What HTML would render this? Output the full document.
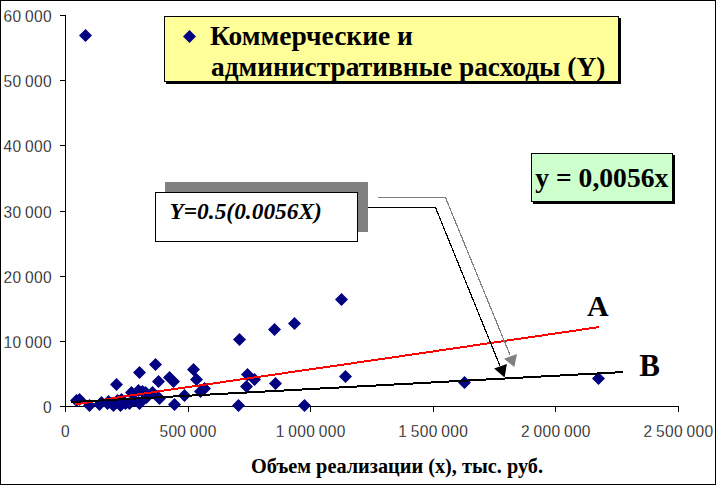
<!DOCTYPE html>
<html><head><meta charset="utf-8">
<style>
html,body{margin:0;padding:0;background:#fff;overflow:hidden}
svg{display:block}
.ax text{font-family:"Liberation Sans",sans-serif;font-size:15.5px;letter-spacing:0.38px;word-spacing:-1.2px;fill:#000;stroke:#fff;stroke-width:0.25px}
.ser{font-family:"Liberation Serif",serif;font-weight:bold;fill:#000}
</style></head><body>
<svg width="716" height="485" viewBox="0 0 716 485">
<rect x="0.5" y="0.5" width="715" height="484" fill="#fff" stroke="#000" stroke-width="1"/>
<g class="ax" stroke="#000" stroke-width="1" shape-rendering="crispEdges">
<path d="M65.5 15V407M65 406.5H679"/>
<g stroke="none"><text transform="translate(52 412.5) scale(1 1.1)" text-anchor="end">0</text><text transform="translate(52 347.5) scale(1 1.1)" text-anchor="end">10 000</text><text transform="translate(52 282.5) scale(1 1.1)" text-anchor="end">20 000</text><text transform="translate(52 217.5) scale(1 1.1)" text-anchor="end">30 000</text><text transform="translate(52 151.5) scale(1 1.1)" text-anchor="end">40 000</text><text transform="translate(52 86.5) scale(1 1.1)" text-anchor="end">50 000</text><text transform="translate(52 21.5) scale(1 1.1)" text-anchor="end">60 000</text><text transform="translate(65.5 437) scale(1 1.1)" text-anchor="middle">0</text><text transform="translate(188.1 437) scale(1 1.1)" text-anchor="middle">500 000</text><text transform="translate(310.7 437) scale(1 1.1)" text-anchor="middle">1 000 000</text><text transform="translate(433.3 437) scale(1 1.1)" text-anchor="middle">1 500 000</text><text transform="translate(555.9 437) scale(1 1.1)" text-anchor="middle">2 000 000</text><text transform="translate(678.5 437) scale(1 1.1)" text-anchor="middle">2 500 000</text></g>
<path d="M60 406.5H65"/><path d="M60 341.5H65"/><path d="M60 276.5H65"/><path d="M60 211.5H65"/><path d="M60 145.5H65"/><path d="M60 80.5H65"/><path d="M60 15.5H65"/>
<path d="M65.5 407V412"/><path d="M188.5 407V412"/><path d="M310.5 407V412"/><path d="M433.5 407V412"/><path d="M555.5 407V412"/><path d="M678.5 407V412"/>
</g>
<path d="M76.5 394.0L83.0 400.5L76.5 407.0L70.0 400.5ZM79.5 393.0L86.0 399.5L79.5 406.0L73.0 399.5ZM89.5 399.0L96.0 405.5L89.5 412.0L83.0 405.5ZM99.5 398.0L106.0 404.5L99.5 411.0L93.0 404.5ZM101.5 396.0L108.0 402.5L101.5 409.0L95.0 402.5ZM107.5 397.0L114.0 403.5L107.5 410.0L101.0 403.5ZM108.5 395.0L115.0 401.5L108.5 408.0L102.0 401.5ZM113.5 399.0L120.0 405.5L113.5 412.0L107.0 405.5ZM117.5 394.0L124.0 400.5L117.5 407.0L111.0 400.5ZM120.5 399.0L127.0 405.5L120.5 412.0L114.0 405.5ZM121.5 393.0L128.0 399.5L121.5 406.0L115.0 399.5ZM125.5 397.0L132.0 403.5L125.5 410.0L119.0 403.5ZM129.5 397.0L136.0 403.5L129.5 410.0L123.0 403.5ZM131.5 386.0L138.0 392.5L131.5 399.0L125.0 392.5ZM138.5 384.0L145.0 390.5L138.5 397.0L132.0 390.5ZM142.5 385.0L149.0 391.5L142.5 398.0L136.0 391.5ZM145.5 386.0L152.0 392.5L145.5 399.0L139.0 392.5ZM139.5 397.0L146.0 403.5L139.5 410.0L133.0 403.5ZM146.5 391.0L153.0 397.5L146.5 404.0L140.0 397.5ZM134.5 394.0L141.0 400.5L134.5 407.0L128.0 400.5ZM116.5 378.0L123.0 384.5L116.5 391.0L110.0 384.5ZM152.5 386.0L159.0 392.5L152.5 399.0L146.0 392.5ZM139.5 366.0L146.0 372.5L139.5 379.0L133.0 372.5ZM155.5 358.0L162.0 364.5L155.5 371.0L149.0 364.5ZM158.5 375.0L165.0 381.5L158.5 388.0L152.0 381.5ZM169.5 371.0L176.0 377.5L169.5 384.0L163.0 377.5ZM173.5 375.0L180.0 381.5L173.5 388.0L167.0 381.5ZM159.5 392.0L166.0 398.5L159.5 405.0L153.0 398.5ZM174.5 398.0L181.0 404.5L174.5 411.0L168.0 404.5ZM184.5 389.0L191.0 395.5L184.5 402.0L178.0 395.5ZM193.5 363.0L200.0 369.5L193.5 376.0L187.0 369.5ZM196.5 373.0L203.0 379.5L196.5 386.0L190.0 379.5ZM200.5 385.0L207.0 391.5L200.5 398.0L194.0 391.5ZM204.5 382.0L211.0 388.5L204.5 395.0L198.0 388.5ZM238.5 399.0L245.0 405.5L238.5 412.0L232.0 405.5ZM247.5 368.0L254.0 374.5L247.5 381.0L241.0 374.5ZM254.5 373.0L261.0 379.5L254.5 386.0L248.0 379.5ZM246.5 380.0L253.0 386.5L246.5 393.0L240.0 386.5ZM275.5 377.0L282.0 383.5L275.5 390.0L269.0 383.5ZM304.5 399.0L311.0 405.5L304.5 412.0L298.0 405.5ZM345.5 370.0L352.0 376.5L345.5 383.0L339.0 376.5ZM239.5 333.0L246.0 339.5L239.5 346.0L233.0 339.5ZM274.5 323.0L281.0 329.5L274.5 336.0L268.0 329.5ZM294.5 317.0L301.0 323.5L294.5 330.0L288.0 323.5ZM341.5 293.0L348.0 299.5L341.5 306.0L335.0 299.5ZM464.5 376.0L471.0 382.5L464.5 389.0L458.0 382.5ZM598.5 372.0L605.0 378.5L598.5 385.0L592.0 378.5ZM85.5 29.0L92.0 35.5L85.5 42.0L79.0 35.5Z" fill="#000080"/>
<path d="M75 403h6v2h-6ZM81 402h6v2h-6ZM87 401h6v2h-6ZM93 400h6v2h-6ZM99 399h6v2h-6ZM105 398h6v2h-6ZM111 397h6v2h-6ZM117 396h6v2h-6ZM123 395h7v2h-7ZM130 394h7v2h-7ZM137 393h7v2h-7ZM144 392h7v2h-7ZM151 391h6v2h-6ZM157 390h7v2h-7ZM164 389h7v2h-7ZM171 388h7v2h-7ZM178 387h7v2h-7ZM185 386h7v2h-7ZM192 385h7v2h-7ZM199 384h7v2h-7ZM206 383h7v2h-7ZM213 382h7v2h-7ZM220 381h6v2h-6ZM226 380h7v2h-7ZM233 379h7v2h-7ZM240 378h7v2h-7ZM247 377h7v2h-7ZM254 376h7v2h-7ZM261 375h7v2h-7ZM268 374h7v2h-7ZM275 373h7v2h-7ZM282 372h6v2h-6ZM288 371h7v2h-7ZM295 370h7v2h-7ZM302 369h7v2h-7ZM309 368h7v2h-7ZM316 367h7v2h-7ZM323 366h7v2h-7ZM330 365h7v2h-7ZM337 364h7v2h-7ZM344 363h7v2h-7ZM351 362h6v2h-6ZM357 361h7v2h-7ZM364 360h7v2h-7ZM371 359h7v2h-7ZM378 358h7v2h-7ZM385 357h7v2h-7ZM392 356h7v2h-7ZM399 355h6v2h-6ZM405 354h7v2h-7ZM412 353h7v2h-7ZM419 352h7v2h-7ZM426 351h7v2h-7ZM433 350h6v2h-6ZM439 349h7v2h-7ZM446 348h7v2h-7ZM453 347h7v2h-7ZM460 346h7v2h-7ZM467 345h6v2h-6ZM473 344h7v2h-7ZM480 343h7v2h-7ZM487 342h7v2h-7ZM494 341h7v2h-7ZM501 340h6v2h-6ZM507 339h7v2h-7ZM514 338h7v2h-7ZM521 337h7v2h-7ZM528 336h7v2h-7ZM535 335h7v2h-7ZM542 334h6v2h-6ZM548 333h7v2h-7ZM555 332h7v2h-7ZM562 331h7v2h-7ZM569 330h7v2h-7ZM576 329h6v2h-6ZM582 328h7v2h-7ZM589 327h7v2h-7ZM596 326h3v2h-3Z" fill="#f00" shape-rendering="crispEdges"/>
<path d="M71 401h10v2h-10ZM81 400h18v2h-18ZM99 399h19v2h-19ZM118 398h18v2h-18ZM136 397h19v2h-19ZM155 396h18v2h-18ZM173 395h19v2h-19ZM192 394h18v2h-18ZM210 393h18v2h-18ZM228 392h19v2h-19ZM247 391h18v2h-18ZM265 390h19v2h-19ZM284 389h18v2h-18ZM302 388h18v2h-18ZM320 387h19v2h-19ZM339 386h18v2h-18ZM357 385h19v2h-19ZM376 384h18v2h-18ZM394 383h19v2h-19ZM413 382h18v2h-18ZM431 381h18v2h-18ZM449 380h19v2h-19ZM468 379h18v2h-18ZM486 378h19v2h-19ZM505 377h18v2h-18ZM523 376h18v2h-18ZM541 375h19v2h-19ZM560 374h18v2h-18ZM578 373h19v2h-19ZM597 372h18v2h-18ZM615 371h8v2h-8Z" fill="#000" shape-rendering="crispEdges"/>
<!-- legend -->
<rect x="166" y="18" width="455" height="66" fill="#000"/>
<rect x="164.5" y="16.5" width="454" height="65" fill="#ffff99" stroke="#000" stroke-width="1"/>
<path d="M189.5 30.0L196.0 36.5L189.5 43.0L183.0 36.5Z" fill="#000080"/>
<text class="ser" x="210" y="45" font-size="27.5">Коммерческие и</text>
<text class="ser" x="211" y="76" font-size="27.4">административные расходы (Y)</text>
<!-- eq box -->
<rect x="533" y="155" width="142" height="49" fill="#000"/>
<rect x="531.5" y="153.5" width="141" height="48" fill="#ccffcc" stroke="#000" stroke-width="1"/>
<text class="ser" x="535.3" y="187" font-size="27.6">y = 0,0056x</text>
<!-- Y box -->
<rect x="165" y="182" width="203" height="50" fill="#808080"/>
<rect x="155.5" y="192.5" width="202" height="49" fill="#fff" stroke="#000" stroke-width="1"/>
<text class="ser" x="169.5" y="219" font-size="23.4" font-style="italic">Y=0.5(0.0056X)</text>
<!-- connectors -->
<path d="M368 207.5H435.5L500 366" stroke="#000" stroke-width="1.2" fill="none" shape-rendering="crispEdges"/>
<path d="M378 197.5H445.5L510 355" stroke="#808080" stroke-width="1.2" fill="none" shape-rendering="crispEdges"/>
<path d="M504.6 377.6L494.1 368.6L506.9 364Z" fill="#000"/>
<path d="M514.3 366.9L504 358.7L517 354.1Z" fill="#808080"/>
<text class="ser" x="587" y="316" font-size="30">A</text>
<text class="ser" x="639.3" y="376" font-size="31">B</text>
<text class="ser" x="251" y="473" font-size="20.3">Объем реализации (х), тыс. руб.</text>
</svg>
</body></html>
